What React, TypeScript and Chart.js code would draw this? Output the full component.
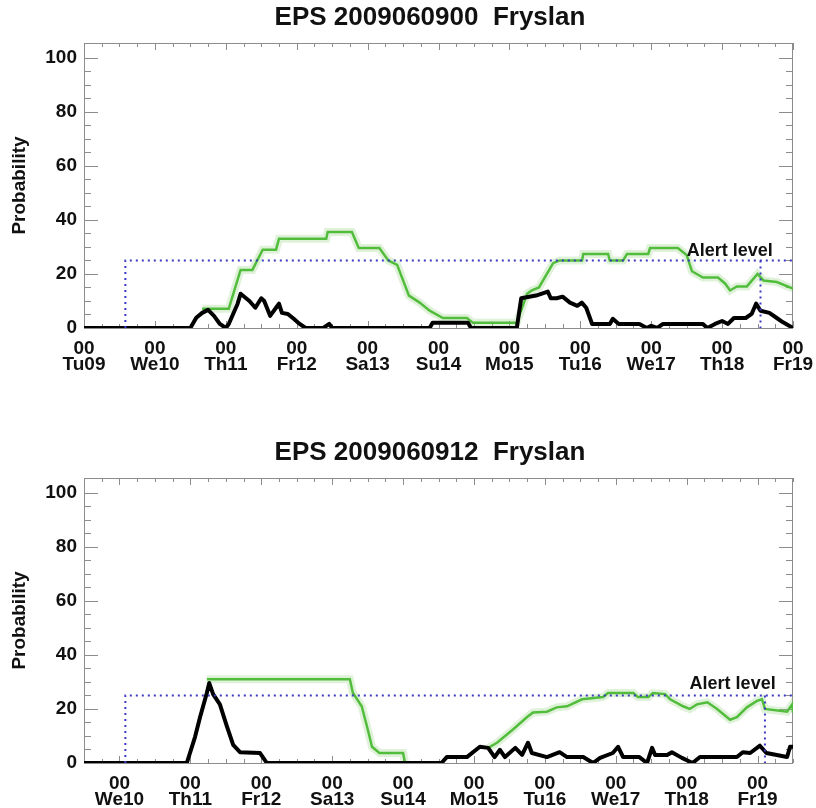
import { useEffect, useRef } from 'react';
import { Chart, registerables } from 'chart.js';

Chart.register(...registerables);

const FONT = '"Liberation Sans", Arial, Helvetica, sans-serif';
const ALERT_LEVEL = 25;

// ---- Run 2009060900 (hours after 9 June 00 UTC) ----
const run00Title = 'EPS 2009060900  Fryslan';
const run00TickHours = [0, 24, 48, 72, 96, 120, 144, 168, 192, 216, 240];
const run00DayLabels = ['Tu09', 'We10', 'Th11', 'Fr12', 'Sa13', 'Su14', 'Mo15', 'Tu16', 'We17', 'Th18', 'Fr19'];
const run00BlackHours = [0, 14, 36, 38, 40, 42, 44, 46, 48, 49, 52, 53, 56, 58, 60, 61, 63, 65, 66, 67, 69, 71, 73, 75, 81, 83, 84, 117, 118, 130, 131, 146.5, 148, 153, 157, 158, 160, 162, 164.5, 167, 168.5, 170, 172, 178, 179, 181, 188, 190.5, 192, 194, 196, 209.5, 211, 213.6, 216, 218, 220, 224, 226, 227.5, 229, 232, 234.5, 236.5, 240];
const run00BlackValues = [0, 0, 0, 3.8, 5.6, 6.7, 4.5, 1.5, 0, 1.5, 9, 12.7, 10, 7.5, 11, 10, 4.5, 7.5, 9, 5.6, 5.2, 3.4, 1.5, 0, 0, 1.5, 0, 0, 1.9, 1.9, 0, 0, 11, 12, 13.5, 11, 11, 11.6, 9.4, 8.2, 9.4, 7.5, 1.5, 1.5, 3.4, 1.5, 1.5, 0, 0.8, 0, 1.5, 1.5, 0, 1.5, 2.6, 1.5, 3.7, 3.7, 5.2, 9, 6.4, 5.6, 3.7, 2.2, 0];
const run00GreenHours = [40, 49, 53, 57, 60.5, 65, 66, 82, 82.5, 90.7, 93, 100, 103, 106, 110, 113.5, 117, 121.5, 129.6, 131.7, 146.5, 150, 151.6, 154, 158.8, 161, 168.6, 169, 177.4, 178, 182.5, 183.8, 191, 191.6, 201, 204, 205.8, 209.5, 214.6, 217, 218.7, 221, 224.4, 228, 230, 234.5, 240];
const run00GreenValues = [7.1, 7.1, 21.5, 21.5, 29, 29, 33, 33, 35.5, 35.5, 29.6, 29.6, 25, 23.4, 12, 9.5, 6.4, 3.7, 3.7, 1.9, 1.9, 12.7, 13.9, 15, 24, 25, 25, 27.4, 27.4, 25, 25, 27.4, 27.4, 29.6, 29.6, 27, 21, 18.7, 18.7, 16.5, 13.9, 15.4, 15.4, 20, 17.6, 17, 14.6];
const run00AlertStart = 14;
const run00AlertEnd = 229;
const run00AlertLabelHour = 204;

// ---- Run 2009060912 (hours after 9 June 12 UTC) ----
const run12Title = 'EPS 2009060912  Fryslan';
const run12TickHours = [12, 36, 60, 84, 108, 132, 156, 180, 204, 228];
const run12DayLabels = ['We10', 'Th11', 'Fr12', 'Sa13', 'Su14', 'Mo15', 'Tu16', 'We17', 'Th18', 'Fr19'];
const run12BlackHours = [0, 14, 34.8, 37.6, 39.3, 41.6, 42.4, 43.7, 46, 48.4, 50.5, 52.8, 59.6, 61.9, 121, 122.8, 129.6, 134, 136.8, 139, 140.8, 142.5, 146, 148.3, 150.3, 151.6, 156.7, 161, 163.5, 169, 172.3, 174.7, 179, 180.8, 182.5, 188, 190.6, 192.3, 193.3, 197.4, 199, 202.4, 206, 208.5, 221, 223, 225.5, 228.8, 231, 238, 239, 240];
const run12BlackValues = [0, 0, 0, 9.7, 17, 26, 29.6, 25.5, 21.7, 13.5, 6.7, 4, 3.7, 0, 0, 2.2, 2.2, 6, 5.6, 2.2, 4.9, 2.2, 5.6, 3, 7.5, 3.7, 2.2, 4, 2.2, 2.2, 0, 1.9, 3.7, 6, 2.2, 2.2, 0, 5.6, 3, 3, 4, 1.9, 0, 2.2, 2.2, 4, 3.7, 6.4, 3.7, 2.2, 6, 6];
const run12GreenHours = [41.6, 90, 91, 94, 95.8, 97.5, 100, 108, 108.7, 120, 136.8, 139.8, 145.2, 150, 152, 156.7, 160, 163.5, 168.6, 175.7, 177.4, 186, 187.5, 191, 192.6, 196.7, 198.4, 202.8, 205, 207.5, 211, 214.3, 218.7, 221, 224.4, 227.8, 229.5, 230.5, 238, 239.7, 240];
const run12GreenValues = [31, 31, 26, 21, 13.5, 6, 3.7, 3.7, 0, null, 5.6, 7.5, 12.4, 17, 18.7, 19, 20.6, 21, 23.6, 24.4, 25.9, 25.9, 24.4, 24.4, 25.9, 25.5, 23.6, 21, 20, 21.7, 22.5, 20, 16, 17, 20.6, 23, 23.6, 20, 19, 21.7, 18.7];
const run12AlertStart = 14;
const run12AlertEnd = 230.5;
const run12AlertLabelHour = 205;

type Props = {
  title: string;
  tickHours: number[];
  dayLabels: string[];
  blackHours: number[];
  blackValues: (number | null)[];
  greenHours: number[];
  greenValues: (number | null)[];
  alertStart: number;
  alertEnd: number;
  alertLabelHour: number;
  alertLabelLift: number;
};

const toPoints = (xs: number[], ys: (number | null)[]) => xs.map((x, i) => ({ x, y: ys[i] }));

function EpsChart(p: Props) {
  const ref = useRef<HTMLCanvasElement | null>(null);

  useEffect(() => {
    if (!ref.current) return;

    const framePlugin = {
      id: 'frame',
      beforeDatasetsDraw(chart: any) {
        const { ctx, chartArea: a, scales } = chart;
        const xs = scales.x;
        const ys = scales.y;
        ctx.save();
        ctx.strokeStyle = '#8c8c8c';
        ctx.lineWidth = 1;
        ctx.strokeRect(a.left + 0.5, a.top + 0.5, a.right - a.left - 1, a.bottom - a.top);
        ctx.beginPath();
        for (let h = 0; h <= 240; h += 6) {
          const major = p.tickHours.includes(h);
          const px = Math.round(xs.getPixelForValue(h)) + 0.5;
          const len = major ? 7 : 4;
          ctx.moveTo(px, a.bottom);
          ctx.lineTo(px, a.bottom - len);
          ctx.moveTo(px, a.top);
          ctx.lineTo(px, a.top + len);
        }
        for (let v = 0; v <= 100; v += 5) {
          const major = v % 20 === 0;
          const py = Math.round(ys.getPixelForValue(v)) + 0.5;
          const len = major ? 14 : 7;
          ctx.moveTo(a.left, py);
          ctx.lineTo(a.left + len, py);
          ctx.moveTo(a.right, py);
          ctx.lineTo(a.right - len, py);
        }
        ctx.stroke();
        ctx.restore();
      },
      afterDraw(chart: any) {
        const { ctx, scales } = chart;
        ctx.save();
        ctx.fillStyle = '#111';
        ctx.font = `bold 26px ${FONT}`;
        ctx.textAlign = 'center';
        ctx.textBaseline = 'middle';
        ctx.fillText(p.title, 430, 18);
        ctx.font = `bold 18px ${FONT}`;
        ctx.textAlign = 'left';
        ctx.fillText(
          'Alert level',
          scales.x.getPixelForValue(p.alertLabelHour),
          scales.y.getPixelForValue(ALERT_LEVEL) - p.alertLabelLift
        );
        ctx.restore();
      },
    };

    const chart = new Chart(ref.current, {
      type: 'line',
      data: {
        datasets: [
          {
            label: 'alert',
            data: [
              { x: p.alertStart, y: 0 },
              { x: p.alertStart, y: ALERT_LEVEL },
              { x: 240, y: ALERT_LEVEL },
            ],
            borderColor: '#3d3ac4',
            borderWidth: 2,
            borderDash: [2, 4],
            pointRadius: 0,
            order: 0,
          },
          {
            label: 'alert end',
            data: [
              { x: p.alertEnd, y: ALERT_LEVEL },
              { x: p.alertEnd, y: 0 },
            ],
            borderColor: '#3d3ac4',
            borderWidth: 2,
            borderDash: [2, 4],
            pointRadius: 0,
            order: 0,
          },
          {
            label: 'black',
            data: toPoints(p.blackHours, p.blackValues),
            borderColor: '#000',
            borderWidth: 4,
            pointRadius: 0,
            borderJoinStyle: 'round',
            borderCapStyle: 'round',
            segment: {
              borderDash: (c: any) => (c.p1.parsed.x <= p.alertStart ? [1, 1] : undefined),
            },
            order: 1,
          },
          {
            label: 'green',
            data: toPoints(p.greenHours, p.greenValues),
            borderColor: '#52bd3c',
            borderWidth: 2.5,
            pointRadius: 0,
            spanGaps: false,
            order: 2,
          },
          {
            label: 'green halo',
            data: toPoints(p.greenHours, p.greenValues),
            borderColor: 'rgba(140, 210, 120, 0.28)',
            borderWidth: 8,
            pointRadius: 0,
            spanGaps: false,
            order: 3,
          },
        ],
      },
      options: {
        animation: false,
        responsive: false,
        maintainAspectRatio: false,
        layout: { padding: { top: 43, right: 23, left: 0, bottom: 0 } },
        plugins: { legend: { display: false }, tooltip: { enabled: false }, title: { display: false } },
        scales: {
          x: {
            type: 'linear',
            min: 0,
            max: 240,
            afterFit: (s: any) => {
              s.height = 45;
              s.paddingLeft = 0;
              s.paddingRight = 0;
            },
            afterBuildTicks: (s: any) => {
              s.ticks = p.tickHours.map((v) => ({ value: v }));
            },
            grid: { display: false, drawTicks: false },
            border: { display: false },
            ticks: {
              autoSkip: false,
              maxRotation: 0,
              padding: 13,
              color: '#111',
              font: { family: FONT, size: 19, weight: 'bold', lineHeight: 0.82 },
              callback: (v: any) => {
                const i = p.tickHours.indexOf(Number(v));
                return ['00', p.dayLabels[i] ?? ''];
              },
            },
          },
          y: {
            type: 'linear',
            min: 0,
            max: 105.5,
            afterFit: (s: any) => {
              s.width = 84;
              s.paddingTop = 0;
              s.paddingBottom = 0;
            },
            afterBuildTicks: (s: any) => {
              s.ticks = [0, 20, 40, 60, 80, 100].map((v) => ({ value: v }));
            },
            grid: { display: false, drawTicks: false },
            border: { display: false },
            title: {
              display: true,
              text: 'Probability',
              color: '#111',
              font: { family: FONT, size: 19, weight: 'bold', lineHeight: 1 },
              padding: { top: 10, bottom: 0 },
            },
            ticks: {
              padding: 7,
              color: '#111',
              font: { family: FONT, size: 19, weight: 'bold' },
            },
          },
        },
      },
      plugins: [framePlugin],
    } as any);

    return () => chart.destroy();
  }, []);

  return <canvas ref={ref} width={816} height={373} style={{ display: 'block', width: 816, height: 373 }} />;
}

export default function App() {
  return (
    <div style={{ position: 'absolute', left: 0, top: 0, width: 816, height: 808, background: '#fff' }}>
      <div style={{ position: 'absolute', left: 0, top: 0 }}>
        <EpsChart
          title={run00Title}
          tickHours={run00TickHours}
          dayLabels={run00DayLabels}
          blackHours={run00BlackHours}
          blackValues={run00BlackValues}
          greenHours={run00GreenHours}
          greenValues={run00GreenValues}
          alertStart={run00AlertStart}
          alertEnd={run00AlertEnd}
          alertLabelHour={run00AlertLabelHour}
          alertLabelLift={9}
        />
      </div>
      <div style={{ position: 'absolute', left: 0, top: 435 }}>
        <EpsChart
          title={run12Title}
          tickHours={run12TickHours}
          dayLabels={run12DayLabels}
          blackHours={run12BlackHours}
          blackValues={run12BlackValues}
          greenHours={run12GreenHours}
          greenValues={run12GreenValues}
          alertStart={run12AlertStart}
          alertEnd={run12AlertEnd}
          alertLabelHour={run12AlertLabelHour}
          alertLabelLift={11}
        />
      </div>
    </div>
  );
}
